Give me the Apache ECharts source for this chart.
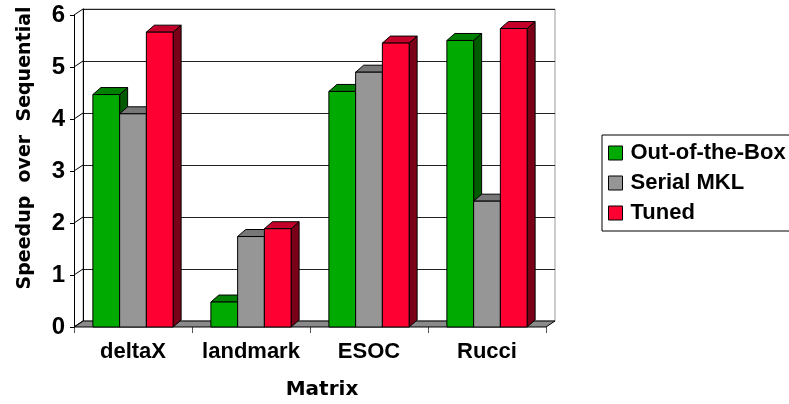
<!DOCTYPE html>
<html>
<head>
<meta charset="utf-8">
<script src="https://cdn.jsdelivr.net/npm/echarts@6/dist/echarts.min.js"></script>
<style>
  html, body { margin: 0; padding: 0; background: #fff; }
  #chart { width: 789px; height: 404px; }
</style>
</head>
<body>
<div id="chart"></div>
<script>
// Speedup of SpMV variants per test matrix
const categories = ['deltaX', 'landmark', 'ESOC', 'Rucci'];
const seriesNames = ['Out-of-the-Box', 'Serial MKL', 'Tuned'];
const outOfTheBox = [4.47, 0.48, 4.53, 5.51];
const serialMKL = [4.10, 1.74, 4.90, 2.42];
const tuned = [5.67, 1.89, 5.46, 5.74];
const yTicks = [0, 1, 2, 3, 4, 5, 6];

// face colours for the pseudo-3D columns: front, top, side
const palettes = [
  { front: '#00aa00', top: '#008000', side: '#005a00' },
  { front: '#969696', top: '#777777', side: '#5c5c5c' },
  { front: '#ff0033', top: '#c4002a', side: '#7a0018' }
];
const seriesValues = [outOfTheBox, serialMKL, tuned];

// depth offsets of the extruded columns and the back wall
const BAR_DX = 8, BAR_DY = -7;
const WALL_DX = 9, WALL_DY = -6;
const GROUP_FRACTION = 0.68;

const FONT = '"Liberation Sans", Arial, sans-serif';
const TITLE_FONT = '"DejaVu Sans", sans-serif';

const chart = echarts.init(document.getElementById('chart'), null, { renderer: 'canvas' });

function barRenderer(seriesIdx) {
  const pal = palettes[seriesIdx];
  return function (params, api) {
    const cat = api.value(0);
    const val = api.value(1);
    const top = api.coord([cat, val]);
    const base = api.coord([cat, 0]);
    const band = api.size([1, 0])[0];
    const bw = band * GROUP_FRACTION / 3;
    const x0 = top[0] - 1.5 * bw + seriesIdx * bw;
    const x1 = x0 + bw;
    const yt = top[1], yb = base[1];
    const stroke = { stroke: '#000', lineWidth: 1 };
    return {
      type: 'group',
      children: [
        {
          type: 'polygon',
          shape: { points: [[x1, yt], [x1 + BAR_DX, yt + BAR_DY], [x1 + BAR_DX, yb + BAR_DY], [x1, yb]] },
          style: Object.assign({ fill: pal.side }, stroke)
        },
        {
          type: 'polygon',
          shape: { points: [[x0, yt], [x1, yt], [x1 + BAR_DX, yt + BAR_DY], [x0 + BAR_DX, yt + BAR_DY]] },
          style: Object.assign({ fill: pal.top }, stroke)
        },
        {
          type: 'rect',
          shape: { x: x0, y: yt, width: bw, height: yb - yt },
          style: Object.assign({ fill: pal.front }, stroke)
        }
      ]
    };
  };
}

// floor and the diagonal tick connectors on the left wall
function floorRenderer(params, api) {
  const v = api.value(0);
  const band = api.size([1, 0])[0];
  const p = api.coord([0, v]);
  const xL = p[0] - band / 2;
  const y = p[1];
  const children = [{
    type: 'line',
    shape: { x1: xL, y1: y, x2: xL + WALL_DX, y2: y + WALL_DY },
    style: { stroke: '#000', lineWidth: 1 }
  }];
  if (v === 0) {
    const pr = api.coord([categories.length - 1, 0]);
    const xR = pr[0] + band / 2;
    children.unshift({
      type: 'polygon',
      shape: { points: [[xL, y], [xR, y], [xR + WALL_DX, y + WALL_DY], [xL + WALL_DX, y + WALL_DY]] },
      style: { fill: '#8a8a8a', stroke: '#000', lineWidth: 1 }
    });
  }
  return { type: 'group', children: children };
}

const series = [{
  type: 'custom',
  name: 'floor',
  xAxisIndex: 0,
  yAxisIndex: 0,
  renderItem: floorRenderer,
  data: yTicks.map(v => [v]),
  encode: { y: 0 },
  silent: true,
  z: 2
}];

seriesValues.forEach((vals, i) => {
  series.push({
    type: 'custom',
    name: seriesNames[i],
    xAxisIndex: 0,
    yAxisIndex: 0,
    renderItem: barRenderer(i),
    itemStyle: { color: palettes[i].front },
    encode: { x: 0, y: 1 },
    data: vals.map((v, c) => [c, v]),
    z: 3
  });
});

const option = {
  animation: false,
  backgroundColor: '#fff',
  grid: [
    // front plane: axes, ticks and labels
    { left: 74, top: 15, width: 472, height: 312, show: false },
    // back wall with gridlines
    { left: 74 + WALL_DX, top: 15 + WALL_DY, width: 472, height: 312,
      show: true, backgroundColor: '#fff', borderColor: '#9a9a9a', borderWidth: 1 }
  ],
  xAxis: [
    {
      type: 'category', gridIndex: 0, data: categories,
      axisLine: { show: false },
      axisTick: { show: true, length: 6, lineStyle: { color: '#555' } },
      axisLabel: { interval: 0, fontFamily: FONT, fontWeight: 'bold', fontSize: 22, color: '#000', margin: 14 }
    },
    {
      type: 'category', gridIndex: 1, data: categories,
      axisLine: { show: false }, axisTick: { show: false }, axisLabel: { show: false }
    }
  ],
  yAxis: [
    {
      type: 'value', gridIndex: 0, min: 0, max: 6, interval: 1,
      axisLine: { show: true, lineStyle: { color: '#000', width: 1 } },
      axisTick: { show: true, length: 4, lineStyle: { color: '#000' } },
      axisLabel: { fontFamily: FONT, fontWeight: 'bold', fontSize: 24, color: '#000', margin: 9 },
      splitLine: { show: false }
    },
    {
      type: 'value', gridIndex: 1, min: 0, max: 6, interval: 1,
      axisLine: { show: true, lineStyle: { color: '#000', width: 1 } },
      axisTick: { show: false }, axisLabel: { show: false },
      splitLine: { show: true, lineStyle: { color: '#222', width: 1 } }
    }
  ],
  legend: {
    orient: 'vertical',
    left: 602,
    top: 135,
    padding: [7, 16, 7, 6],
    itemGap: 8,
    itemWidth: 14,
    itemHeight: 14,
    backgroundColor: '#fff',
    borderColor: '#000',
    borderWidth: 1,
    borderRadius: 0,
    textStyle: { fontFamily: FONT, fontWeight: 'bold', fontSize: 22, color: '#000', padding: [0, 0, 0, 3] },
    data: seriesNames.map((n, i) => ({
      name: n,
      icon: 'rect',
      itemStyle: { color: palettes[i].front, borderColor: '#000', borderWidth: 1 }
    }))
  },
  graphic: [
    {
      type: 'text',
      x: 25, y: 148,
      rotation: Math.PI / 2,
      style: {
        text: 'Speedup  over  Sequential',
        font: 'bold 19px ' + TITLE_FONT,
        fill: '#000',
        align: 'center',
        verticalAlign: 'middle'
      }
    },
    {
      type: 'text',
      x: 322, y: 390,
      style: {
        text: 'Matrix',
        font: 'bold 20px ' + TITLE_FONT,
        fill: '#000',
        align: 'center',
        verticalAlign: 'middle'
      }
    }
  ],
  series: series
};

chart.setOption(option);
</script>
</body>
</html>
